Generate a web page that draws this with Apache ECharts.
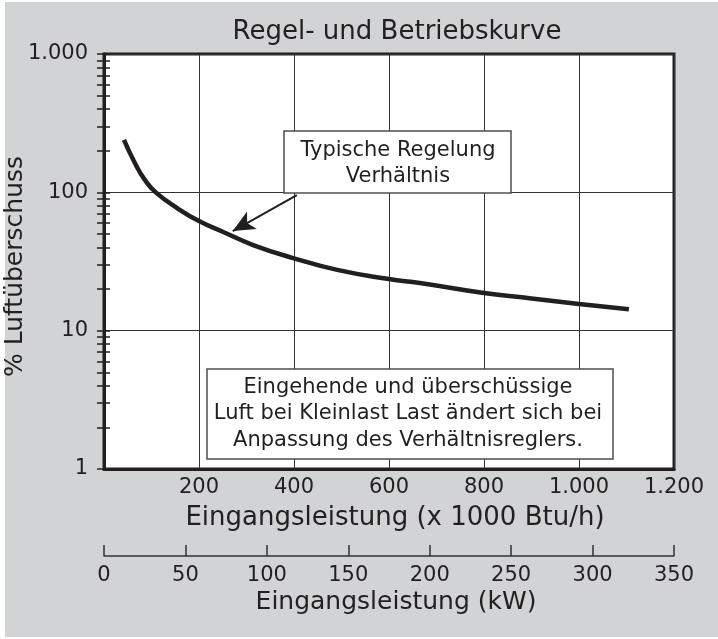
<!DOCTYPE html>
<html>
<head>
<meta charset="utf-8">
<title>Regel- und Betriebskurve</title>
<script src="https://cdn.jsdelivr.net/npm/echarts@6/dist/echarts.min.js"></script>
<style>
  html, body { margin: 0; padding: 0; background: #fff; }
  #bg { position: absolute; left: 5px; top: 2px; width: 713px; height: 635px; background: #d1d3d4; }
  #chart { position: absolute; left: 0; top: 0; width: 718px; height: 639px; }
</style>
</head>
<body>
<div id="bg"></div>
<div id="chart"></div>
<script>
// Kurve: Eingangsleistung (x 1000 Btu/h) -> % Luftüberschuss
const inputKBtu = [42, 65, 86, 109, 154, 200, 251, 314, 398, 491, 600, 665, 800, 900, 1000, 1105]
const excessAir = [239, 163, 123, 100, 77, 62, 51.7, 41.6, 33.5, 27.5, 23.6, 22.1, 18.7, 17.1, 15.6, 14.3]

// Pfeil von der Beschriftung zur Kurve (Datenkoordinaten)
const arrowFrom = [406, 95.5]
const arrowTo = [271, 52.5]

const yMinorTicks = [1, 2, 3, 4, 5, 6, 7, 8, 9, 10, 20, 30, 40, 50, 60, 70, 80, 90,
  100, 200, 300, 400, 500, 600, 700, 800, 900, 1000]
const noteTop = 'Typische Regelung\nVerhältnis'
const noteBottom = 'Eingehende und überschüssige\nLuft bei Kleinlast Last ändert sich bei\nAnpassung des Verhältnisreglers.'

const FONT = '"DejaVu Sans", sans-serif'
const INK = '#231f20'
const TXT = '#231f20'

const fmtDe = (v) => {
  if (v >= 1000) return (v / 1000).toFixed(0) + '.' + String(v % 1000).padStart(3, '0')
  return String(v)
}

const chart = echarts.init(document.getElementById('chart'))

const option = {
  backgroundColor: 'transparent',
  textStyle: { fontFamily: FONT },
  title: {
    text: 'Regel- und Betriebskurve',
    left: 392,
    textAlign: 'center',
    top: 14,
    textStyle: { fontFamily: FONT, fontSize: 26, fontWeight: 'normal', color: TXT }
  },
  grid: [
    {
      left: 104, top: 54, width: 570, height: 415,
      outerBoundsMode: 'none', containLabel: false,
      show: true, backgroundColor: '#fff', borderColor: INK, borderWidth: 3
    },
    { left: 104, top: 555, width: 570, height: 1, outerBoundsMode: 'none', containLabel: false }
  ],
  xAxis: [
    {
      type: 'value', gridIndex: 0, min: 0, max: 1200, interval: 200,
      axisLine: { show: true, lineStyle: { color: INK, width: 3 } },
      axisTick: { show: false },
      splitLine: { show: true, lineStyle: { color: '#333', width: 1 } },
      axisLabel: {
        margin: 8, fontSize: 21, color: TXT, fontFamily: FONT,
        showMaxLabel: true,
        formatter: (v) => (v === 0 ? '' : fmtDe(v))
      },
      name: 'Eingangsleistung (x 1000 Btu/h)',
      nameLocation: 'middle', nameGap: 36, nameMoveOverlap: false,
      nameTextStyle: { fontSize: 26, color: TXT, fontFamily: FONT, padding: [0, 0, 0, 12] }
    },
    {
      type: 'value', gridIndex: 1, min: 0, max: 350, interval: 50,
      axisLine: { show: true, lineStyle: { color: '#333', width: 1.5 } },
      axisTick: { show: true, inside: true, length: 11, lineStyle: { color: '#333', width: 1.5 } },
      splitLine: { show: false },
      axisLabel: { margin: 9, fontSize: 21, color: TXT, fontFamily: FONT, showMaxLabel: true },
      name: 'Eingangsleistung (kW)',
      nameLocation: 'middle', nameGap: 34, nameMoveOverlap: false,
      nameTextStyle: { fontSize: 25, color: TXT, fontFamily: FONT, padding: [0, 0, 0, 14] }
    }
  ],
  yAxis: [
    {
      type: 'log', logBase: 10, gridIndex: 0, min: 1, max: 1000,
      axisLine: { show: true, lineStyle: { color: INK, width: 3 } },
      axisTick: { show: false },
      splitLine: { show: true, lineStyle: { color: '#333', width: 1 } },
      axisLabel: { margin: 16, fontSize: 21, color: TXT, fontFamily: FONT, formatter: fmtDe },
      name: '% Luftüberschuss',
      nameLocation: 'middle', nameGap: 76, nameRotate: 90, nameMoveOverlap: false,
      nameTextStyle: { fontSize: 25, color: TXT, fontFamily: FONT, padding: [0, 10, 0, 0] }
    },
    {
      // Hilfsachse nur für die logarithmischen Teilstriche
      type: 'log', logBase: 10, gridIndex: 0, min: 1, max: 1000,
      position: 'left', offset: -6,
      axisLine: { show: false },
      axisTick: { show: true, length: 13, customValues: yMinorTicks, lineStyle: { color: INK, width: 1.5 } },
      axisLabel: { show: false },
      splitLine: { show: false }
    },
    { type: 'value', gridIndex: 1, show: false, min: 0, max: 1 }
  ],
  graphic: [
    {
      type: 'rect', z: 100, shape: { x: 284, y: 131, width: 227, height: 62 },
      style: { fill: '#fff', stroke: '#4d4d4f', lineWidth: 1.5 }
    },
    {
      type: 'text', z: 101, x: 398, y: 164,
      style: {
        text: noteTop, font: '21px ' + FONT, fill: TXT,
        align: 'center', verticalAlign: 'middle', lineHeight: 26
      }
    },
    {
      type: 'rect', z: 100, shape: { x: 207, y: 369, width: 406, height: 90 },
      style: { fill: '#fff', stroke: '#4d4d4f', lineWidth: 1.5 }
    },
    {
      type: 'text', z: 101, x: 408, y: 414,
      style: {
        text: noteBottom, font: '21px ' + FONT, fill: TXT,
        align: 'center', verticalAlign: 'middle', lineHeight: 26.5
      }
    }
  ],
  series: [
    {
      type: 'line',
      xAxisIndex: 0, yAxisIndex: 0,
      data: inputKBtu.map((x, i) => [x, excessAir[i]]),
      smooth: true,
      symbol: 'none',
      lineStyle: { color: INK, width: 4.5 },
      silent: true,
      markLine: {
        silent: true,
        symbol: ['none', 'arrow'],
        symbolSize: [15, 22],
        label: { show: false },
        lineStyle: { color: INK, width: 2, type: 'solid' },
        data: [[{ coord: arrowFrom }, { coord: arrowTo }]]
      }
    }
  ]
}

chart.setOption(option)

window.addEventListener('resize', () => chart.resize())
</script>
</body>
</html>
